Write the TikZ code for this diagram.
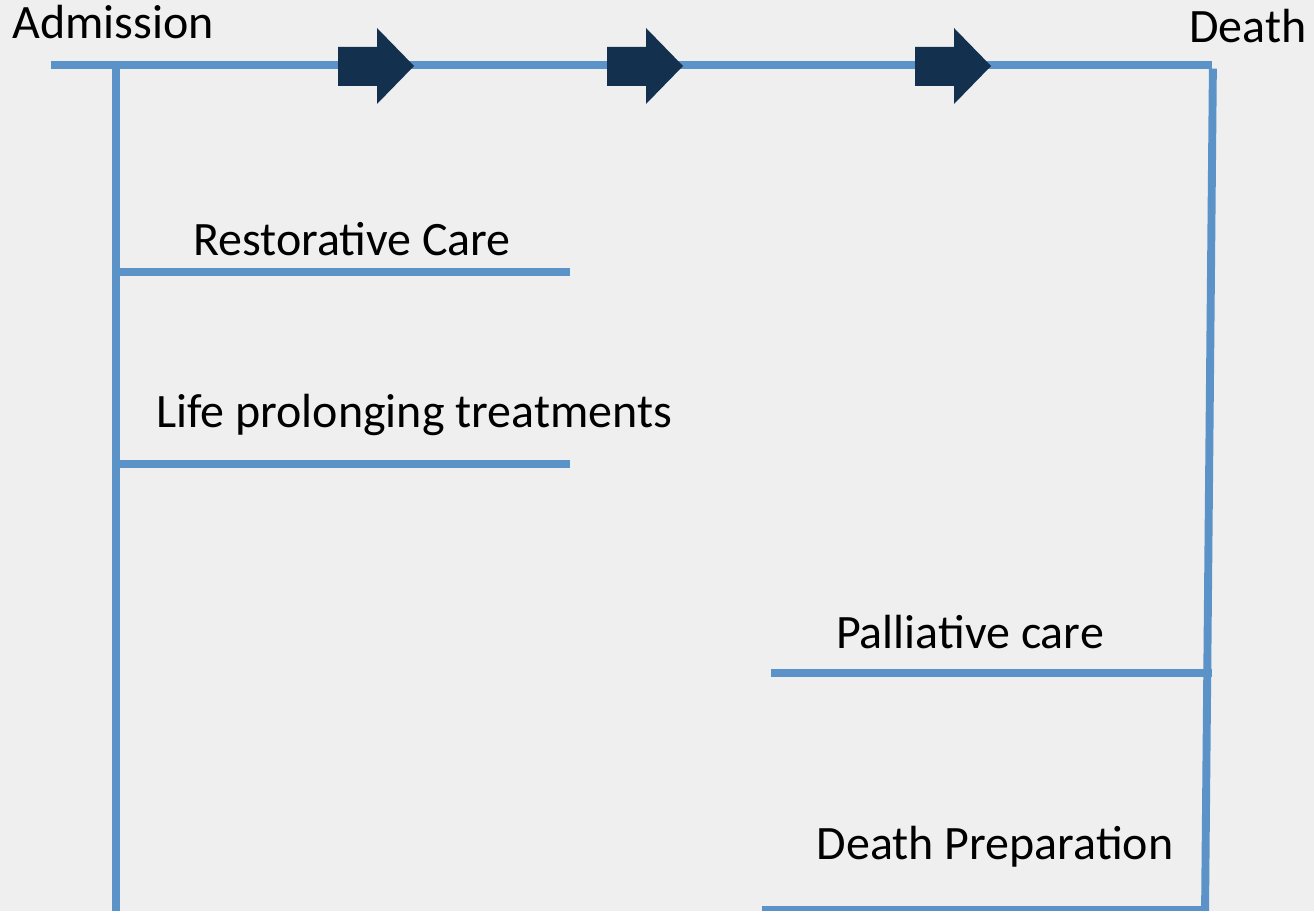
\documentclass[tikz,border=0pt]{standalone}
\usepackage{fontspec}
\setmainfont{Carlito}
\definecolor{bgcol}{HTML}{EFEFEF}
\definecolor{linecol}{HTML}{5B93C9}
\definecolor{arrowcol}{HTML}{14304F}
\tikzset{
  track/.style={draw=linecol,line width=4.5pt},
  label/.style={anchor=base,inner sep=0pt,font=\fontsize{27.3}{32}\selectfont},
}
\begin{document}
\begin{tikzpicture}[x=0.02cm,y=-0.02cm]
% Background
\fill[bgcol] (0,0) rectangle (1314,911);
\useasboundingbox (0,0) rectangle (1314,911);

% Corner points of the timeline
\coordinate (start) at (51,65);
\coordinate (topleft) at (116,65);
\coordinate (topright) at (1212,65);
\coordinate (botleft) at (116,915);
\coordinate (botright) at (1205,915);

% Timeline and its two verticals
\draw[track] (start) -- (topright);
\draw[track] (topleft) -- (botleft);
\draw[track] ([xshift=0.5pt,yshift=-2pt]topright) -- (botright);

% Phase lines
\coordinate (rest-a) at (116,272);
\coordinate (rest-b) at (570,272);
\coordinate (life-a) at (116,464);
\coordinate (life-b) at (570,464);
\coordinate (pall-a) at (771,673);
\coordinate (pall-b) at (1212,673);
\coordinate (prep-a) at (762,910);
\coordinate (prep-b) at (1205,910);
\draw[track] (rest-a) -- (rest-b);
\draw[track] (life-a) -- (life-b);
\draw[track] (pall-a) -- (pall-b);
\draw[track] (prep-a) -- (prep-b);

% Labels
\node[label] (adm) at (113,39) {Admission};
\node[label] (death) at (1248,43) {Death};
\node[label] (rest) at (352,256) {Restorative Care};
\node[label] (life) at (414,428) {Life prolonging treatments};
\node[label] (pall) at (970,648) {Palliative care};
\node[label] (prep) at (995,859) {Death Preparation};

% Block arrows along the timeline
\foreach \x in {414,683,991}
  \fill[arrowcol] (\x-76,47) -- (\x-37,47) -- (\x-37,28) -- (\x,66)
    -- (\x-37,104) -- (\x-37,86) -- (\x-76,86) -- cycle;
\end{tikzpicture}
\end{document}
